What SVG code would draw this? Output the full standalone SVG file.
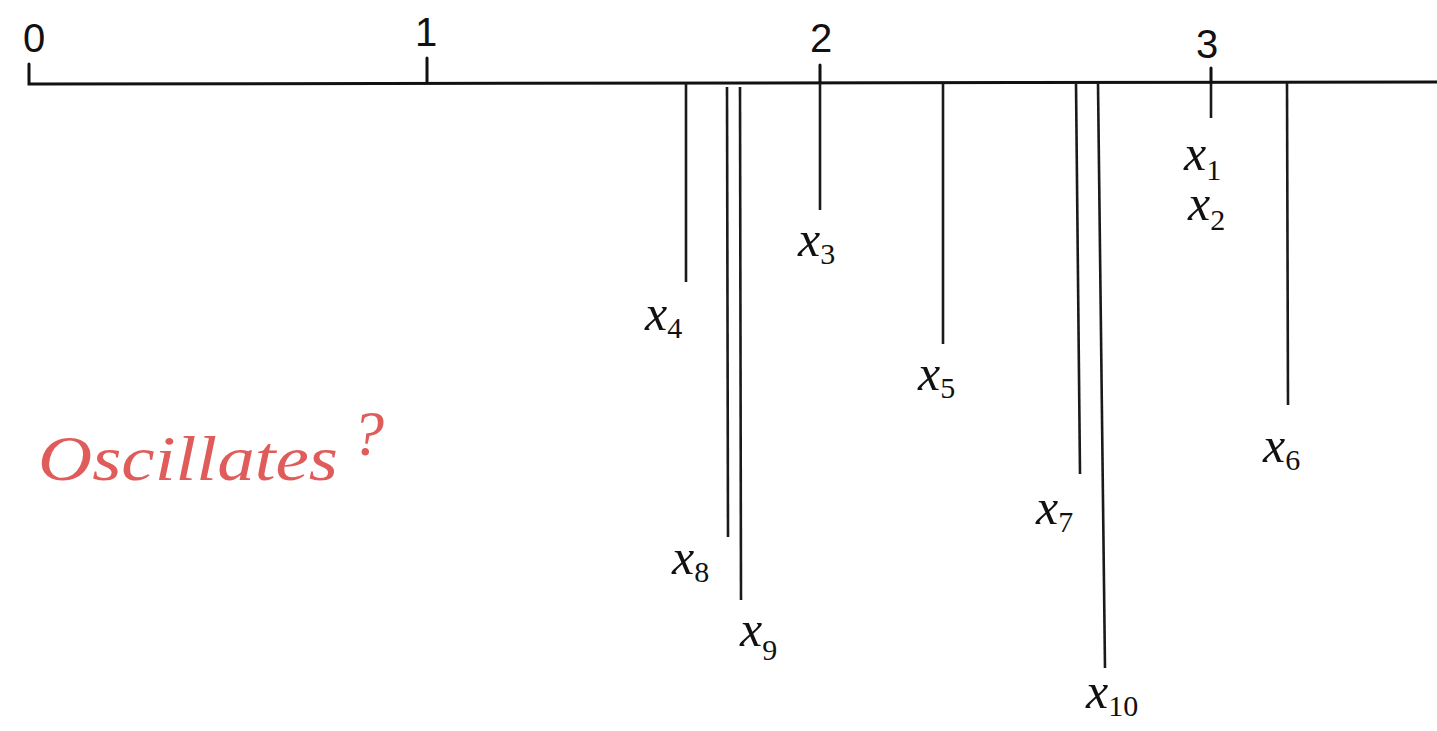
<svg xmlns="http://www.w3.org/2000/svg" width="1437" height="731" viewBox="0 0 1437 731">
<style>
.ax{stroke:#111;stroke-width:3;fill:none;stroke-linecap:round}
.ln{stroke:#1a1a1a;stroke-width:2.6;fill:none}
.num{font-family:"Liberation Sans",sans-serif;font-size:40px;fill:#111;text-anchor:middle}
.lab{font-family:"Liberation Serif",serif;font-style:italic;font-size:50px;fill:#111}
.sub{font-size:30px;font-style:normal}
.red{font-family:"Liberation Serif",serif;font-style:italic;font-size:64px;fill:#e05c5a}
</style>
<rect width="1437" height="731" fill="#fff"/>
<g id="axis">
<path class="ax" d="M29,64 L29,84 L1437,82"/>
<line class="ax" x1="427" y1="58" x2="427" y2="82"/>
<line class="ax" x1="820" y1="65" x2="820" y2="83"/>
<line class="ax" x1="1211" y1="68" x2="1211" y2="83"/>
<text class="num" x="34" y="52">0</text>
<text class="num" x="426" y="46" font-size="36">1</text>
<text class="num" x="821" y="52">2</text>
<text class="num" x="1207" y="58">3</text>
</g>
<g id="connectors">
<line class="ln" x1="686" y1="83" x2="686" y2="282"/>
<line class="ln" x1="727" y1="87" x2="728" y2="537"/>
<line class="ln" x1="740" y1="87" x2="741" y2="600"/>
<line class="ln" x1="820" y1="83" x2="820" y2="210"/>
<line class="ln" x1="943" y1="83" x2="943" y2="344"/>
<line class="ln" x1="1076" y1="83" x2="1080" y2="474"/>
<line class="ln" x1="1098" y1="83" x2="1105" y2="668"/>
<line class="ln" x1="1211" y1="83" x2="1211" y2="118"/>
<line class="ln" x1="1287" y1="83" x2="1288" y2="405"/>
</g>
<g id="x1"><text class="lab" x="1184" y="170">x<tspan class="sub" dy="10">1</tspan></text></g>
<g id="x2"><text class="lab" x="1188" y="220">x<tspan class="sub" dy="10">2</tspan></text></g>
<g id="x3"><text class="lab" x="798" y="256">x<tspan class="sub" dy="8">3</tspan></text></g>
<g id="x4"><text class="lab" x="645" y="330">x<tspan class="sub" dy="8">4</tspan></text></g>
<g id="x5"><text class="lab" x="918" y="390">x<tspan class="sub" dy="8">5</tspan></text></g>
<g id="x6"><text class="lab" x="1263" y="462">x<tspan class="sub" dy="8">6</tspan></text></g>
<g id="x7"><text class="lab" x="1036" y="524">x<tspan class="sub" dy="8">7</tspan></text></g>
<g id="x8"><text class="lab" x="672" y="574">x<tspan class="sub" dy="8">8</tspan></text></g>
<g id="x9"><text class="lab" x="740" y="646">x<tspan class="sub" dy="14">9</tspan></text></g>
<g id="x10"><text class="lab" x="1086" y="708">x<tspan class="sub" dy="8">10</tspan></text></g>
<g id="note"><text class="red" x="38" y="480" textLength="300" lengthAdjust="spacingAndGlyphs">Oscillates</text><text class="red" x="352" y="455" font-size="72">?</text></g>
</svg>
